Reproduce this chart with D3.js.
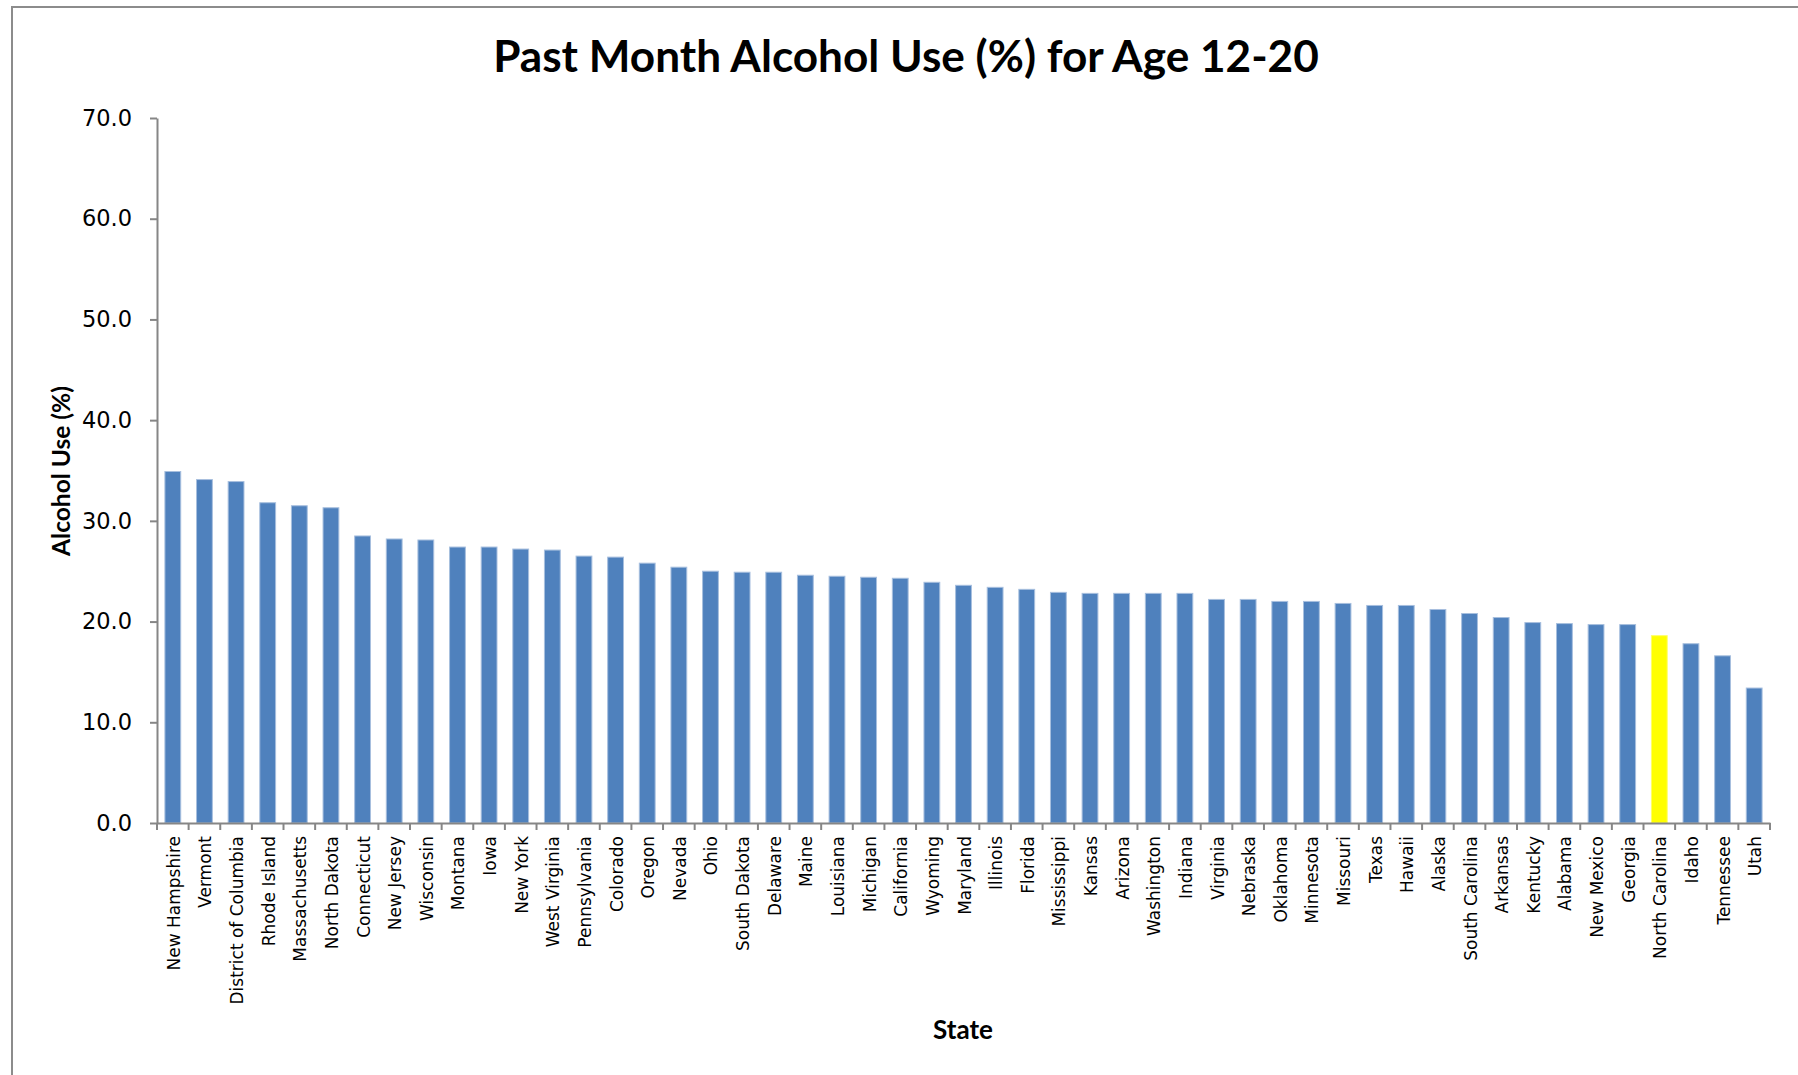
<!DOCTYPE html>
<html>
<head>
<meta charset="utf-8">
<script src="https://cdn.jsdelivr.net/npm/d3@7"></script>
<style>
  html, body { margin: 0; padding: 0; background: #fff; }
  svg { display: block; }
</style>
</head>
<body>
<script>
const states = ["New Hampshire","Vermont","District of Columbia","Rhode Island","Massachusetts","North Dakota","Connecticut","New Jersey","Wisconsin","Montana","Iowa","New York","West Virginia","Pennsylvania","Colorado","Oregon","Nevada","Ohio","South Dakota","Delaware","Maine","Louisiana","Michigan","California","Wyoming","Maryland","Illinois","Florida","Mississippi","Kansas","Arizona","Washington","Indiana","Virginia","Nebraska","Oklahoma","Minnesota","Missouri","Texas","Hawaii","Alaska","South Carolina","Arkansas","Kentucky","Alabama","New Mexico","Georgia","North Carolina","Idaho","Tennessee","Utah"];
const values = [34.9,34.1,33.9,31.8,31.5,31.3,28.5,28.2,28.1,27.4,27.4,27.2,27.1,26.5,26.4,25.8,25.4,25.0,24.9,24.9,24.6,24.5,24.4,24.3,23.9,23.6,23.4,23.2,22.9,22.8,22.8,22.8,22.8,22.2,22.2,22.0,22.0,21.8,21.6,21.6,21.2,20.8,20.4,19.9,19.8,19.7,19.7,18.6,17.8,16.6,13.4];
const highlight = ["North Carolina"];
const yTicks = [0,10,20,30,40,50,60,70];
const title = "Past Month Alcohol Use (%) for Age 12-20";
const yTitle = "Alcohol Use (%)";
const xTitle = "State";

const W = 1798, H = 1075;
const svg = d3.select("body").append("svg").attr("width", W).attr("height", H);

// outer frame (top and left edges visible)
svg.append("path")
  .attr("d", `M12,${H} L12,7 L${W},7`)
  .attr("fill", "none").attr("stroke", "#8c8c8c").attr("stroke-width", 2);

const x0 = 157, x1 = 1770, yBase = 823, yTop = 118;
const x = d3.scaleBand().domain(states).range([x0, x1]).paddingInner(0.5).paddingOuter(0.25);
const y = d3.scaleLinear().domain([0, 70]).range([yBase, yTop]);

const axisColor = "#868686";

// bars
svg.append("g").selectAll("rect").data(states).join("rect")
  .attr("x", d => x(d))
  .attr("y", (d, i) => y(values[i]))
  .attr("width", x.bandwidth())
  .attr("height", (d, i) => y(0) - y(values[i]))
  .attr("fill", d => highlight.includes(d) ? "#FFFF00" : "#4F81BD")
  .attr("stroke", d => highlight.includes(d) ? "#FFFF66" : "#A7BFDE")
  .attr("stroke-width", 1);

// y axis
const yAxis = svg.append("g").attr("transform", `translate(${x0},0)`)
  .call(d3.axisLeft(y).tickValues(yTicks).tickSize(7).tickSizeOuter(0).tickPadding(18).tickFormat(d3.format(".1f")));
yAxis.select(".domain").attr("stroke", axisColor).attr("stroke-width", 2);
yAxis.selectAll(".tick line").attr("stroke", axisColor).attr("stroke-width", 2);
yAxis.selectAll(".tick text")
  .attr("font-family", "DejaVu Sans").attr("font-size", 22.5).attr("fill", "#000");

// x axis
const xAxis = svg.append("g").attr("transform", `translate(0,${yBase})`)
  .call(d3.axisBottom(x).tickSize(0).tickSizeOuter(0).tickPadding(0));
xAxis.select(".domain").attr("stroke", axisColor).attr("stroke-width", 2);
xAxis.selectAll(".tick text")
  .attr("font-family", "DejaVu Sans").attr("font-size", 17).attr("fill", "#000")
  .attr("text-anchor", "end")
  .attr("dominant-baseline", "central")
  .attr("dy", null)
  .attr("transform", "translate(1,13) rotate(-90)")
  .attr("y", 0).attr("x", 0);
// category boundary ticks
const step = x.step();
const bounds = states.map(d => x(d) + x.bandwidth() / 2 - step / 2).concat([x(states[states.length - 1]) + x.bandwidth() / 2 + step / 2]);
xAxis.append("g").selectAll("line").data(bounds).join("line")
  .attr("x1", d => d).attr("x2", d => d).attr("y1", 0).attr("y2", 7)
  .attr("stroke", axisColor).attr("stroke-width", 2);

// title
const t = svg.append("text").attr("x", 906).attr("y", 72)
  .attr("text-anchor", "middle").attr("font-family", "Lato").attr("font-weight", "bold")
  .attr("font-size", 36).attr("fill", "#000").text(title);
const tw = t.node().getComputedTextLength();
t.attr("font-size", 36 * 826 / tw);

// y title
const yt = svg.append("text")
  .attr("transform", "translate(70,471) rotate(-90)")
  .attr("text-anchor", "middle").attr("font-family", "Lato").attr("font-weight", "bold")
  .attr("font-size", 22).attr("fill", "#000").text(yTitle);
const ytw = yt.node().getComputedTextLength();
yt.attr("font-size", 22 * 170 / ytw);

// x title
const xt = svg.append("text").attr("x", 963).attr("y", 1039)
  .attr("text-anchor", "middle").attr("font-family", "Lato").attr("font-weight", "bold")
  .attr("font-size", 22).attr("fill", "#000").text(xTitle);
const xtw = xt.node().getComputedTextLength();
xt.attr("font-size", 22 * 60 / xtw);
</script>
</body>
</html>
